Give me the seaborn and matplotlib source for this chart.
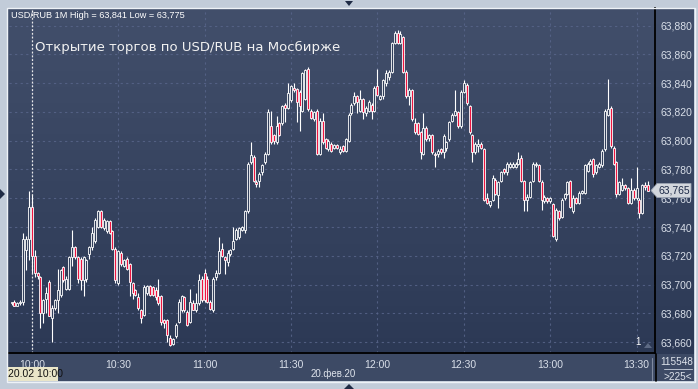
import numpy as np
import pandas as pd
import matplotlib
matplotlib.use("Agg")
import matplotlib.pyplot as plt
from matplotlib.colors import LinearSegmentedColormap
from matplotlib.patches import Rectangle, Polygon
from matplotlib.lines import Line2D
import seaborn as sns

sns.set_theme(style="dark")
plt.rcParams['font.family'] = ['Liberation Sans', 'DejaVu Sans']

# ---------------- data (1-minute candles, 20.02.2020 from 09:53) ----------------
start_time = "2020-02-20 09:53"
opens = [63.687, 63.688, 63.685, 63.687, 63.688, 63.724, 63.732, 63.754, 63.720, 63.708,
         63.705, 63.680, 63.690, 63.702, 63.677, 63.684, 63.689, 63.693, 63.712, 63.697,
         63.697, 63.719, 63.726, 63.719, 63.718, 63.703, 63.704, 63.721, 63.726, 63.730,
         63.740, 63.751, 63.739, 63.737, 63.744, 63.737, 63.725, 63.701, 63.722, 63.713,
         63.718, 63.714, 63.701, 63.696, 63.691, 63.682, 63.679, 63.694, 63.699, 63.698,
         63.696, 63.692, 63.692, 63.675, 63.675, 63.663, 63.659, 63.664, 63.674, 63.682,
         63.691, 63.681, 63.674, 63.687, 63.682, 63.687, 63.704, 63.708, 63.704, 63.688,
         63.682, 63.705, 63.708, 63.725, 63.719, 63.716, 63.721, 63.725, 63.732, 63.733,
         63.738, 63.738, 63.751, 63.785, 63.789, 63.771, 63.772, 63.778, 63.785, 63.791,
         63.810, 63.804, 63.799, 63.812, 63.812, 63.825, 63.823, 63.828, 63.837, 63.836,
         63.834, 63.821, 63.829, 63.850, 63.821, 63.815, 63.821, 63.791, 63.814, 63.801,
         63.794, 63.798, 63.795, 63.797, 63.792, 63.796, 63.793, 63.800, 63.819, 63.826,
         63.831, 63.821, 63.829, 63.819, 63.821, 63.825, 63.821, 63.838, 63.829, 63.831,
         63.840, 63.844, 63.848, 63.868, 63.875, 63.868, 63.872, 63.848, 63.831, 63.835,
         63.812, 63.812, 63.806, 63.791, 63.809, 63.802, 63.804, 63.791, 63.791, 63.794,
         63.792, 63.795, 63.801, 63.814, 63.818, 63.820, 63.810, 63.834, 63.839, 63.824,
         63.804, 63.792, 63.796, 63.798, 63.794, 63.760, 63.755, 63.759, 63.773, 63.762,
         63.772, 63.780, 63.778, 63.782, 63.782, 63.782, 63.784, 63.788, 63.772, 63.759,
         63.761, 63.772, 63.783, 63.783, 63.771, 63.758, 63.760, 63.758, 63.756, 63.732,
         63.751, 63.747, 63.760, 63.763, 63.772, 63.751, 63.760, 63.757, 63.764, 63.764,
         63.779, 63.784, 63.787, 63.778, 63.782, 63.783, 63.794, 63.818, 63.823, 63.795,
         63.785, 63.763, 63.766, 63.769, 63.767, 63.757, 63.766, 63.760, 63.759, 63.750,
         63.769, 63.769]
highs = [63.688, 63.689, 63.688, 63.689, 63.736, 63.734, 63.765, 63.762, 63.724, 63.709,
         63.706, 63.690, 63.698, 63.703, 63.686, 63.690, 63.711, 63.711, 63.713, 63.706,
         63.720, 63.738, 63.727, 63.720, 63.719, 63.720, 63.718, 63.727, 63.740, 63.746,
         63.752, 63.752, 63.746, 63.745, 63.745, 63.738, 63.726, 63.724, 63.723, 63.718,
         63.719, 63.715, 63.702, 63.697, 63.694, 63.683, 63.700, 63.700, 63.700, 63.699,
         63.698, 63.704, 63.693, 63.676, 63.676, 63.665, 63.663, 63.673, 63.690, 63.693,
         63.692, 63.682, 63.697, 63.689, 63.694, 63.707, 63.706, 63.711, 63.706, 63.689,
         63.705, 63.710, 63.733, 63.729, 63.720, 63.724, 63.725, 63.740, 63.739, 63.740,
         63.741, 63.752, 63.785, 63.799, 63.790, 63.773, 63.778, 63.784, 63.792, 63.822,
         63.821, 63.805, 63.817, 63.813, 63.825, 63.826, 63.840, 63.839, 63.840, 63.837,
         63.835, 63.848, 63.850, 63.851, 63.822, 63.821, 63.822, 63.816, 63.819, 63.802,
         63.801, 63.799, 63.798, 63.798, 63.796, 63.797, 63.802, 63.819, 63.826, 63.834,
         63.832, 63.835, 63.830, 63.824, 63.828, 63.826, 63.838, 63.850, 63.832, 63.843,
         63.849, 63.849, 63.869, 63.876, 63.877, 63.876, 63.873, 63.849, 63.837, 63.836,
         63.816, 63.813, 63.807, 63.819, 63.810, 63.805, 63.805, 63.792, 63.794, 63.795,
         63.805, 63.800, 63.814, 63.819, 63.835, 63.821, 63.835, 63.842, 63.840, 63.825,
         63.805, 63.799, 63.801, 63.799, 63.795, 63.764, 63.758, 63.776, 63.774, 63.772,
         63.779, 63.781, 63.785, 63.785, 63.785, 63.785, 63.792, 63.790, 63.773, 63.763,
         63.772, 63.785, 63.785, 63.784, 63.773, 63.762, 63.761, 63.761, 63.757, 63.753,
         63.752, 63.760, 63.764, 63.772, 63.773, 63.762, 63.761, 63.765, 63.766, 63.784,
         63.785, 63.787, 63.788, 63.784, 63.785, 63.794, 63.822, 63.843, 63.824, 63.796,
         63.786, 63.772, 63.774, 63.770, 63.768, 63.774, 63.767, 63.782, 63.760, 63.770,
         63.771, 63.772]
lows = [63.686, 63.685, 63.685, 63.686, 63.686, 63.710, 63.717, 63.708, 63.705, 63.704,
        63.670, 63.673, 63.680, 63.678, 63.660, 63.682, 63.680, 63.691, 63.702, 63.696,
        63.696, 63.713, 63.718, 63.701, 63.696, 63.692, 63.702, 63.718, 63.724, 63.729,
        63.739, 63.739, 63.738, 63.736, 63.735, 63.724, 63.701, 63.700, 63.713, 63.712,
        63.710, 63.692, 63.690, 63.692, 63.682, 63.673, 63.678, 63.693, 63.692, 63.692,
        63.689, 63.686, 63.672, 63.670, 63.660, 63.657, 63.658, 63.663, 63.673, 63.681,
        63.681, 63.671, 63.673, 63.682, 63.681, 63.686, 63.688, 63.688, 63.687, 63.682,
        63.681, 63.703, 63.707, 63.719, 63.707, 63.713, 63.720, 63.724, 63.731, 63.732,
        63.737, 63.736, 63.750, 63.784, 63.771, 63.768, 63.768, 63.776, 63.784, 63.790,
        63.798, 63.798, 63.798, 63.803, 63.811, 63.813, 63.822, 63.827, 63.834, 63.813,
        63.807, 63.820, 63.828, 63.821, 63.815, 63.814, 63.790, 63.790, 63.798, 63.794,
        63.793, 63.792, 63.794, 63.794, 63.791, 63.792, 63.792, 63.799, 63.818, 63.825,
        63.819, 63.820, 63.815, 63.817, 63.820, 63.815, 63.820, 63.831, 63.828, 63.829,
        63.838, 63.842, 63.847, 63.867, 63.867, 63.867, 63.847, 63.830, 63.825, 63.814,
        63.805, 63.804, 63.787, 63.790, 63.800, 63.800, 63.791, 63.782, 63.789, 63.791,
        63.788, 63.793, 63.800, 63.813, 63.817, 63.809, 63.809, 63.833, 63.825, 63.805,
        63.785, 63.791, 63.792, 63.794, 63.758, 63.756, 63.754, 63.758, 63.762, 63.753,
        63.771, 63.777, 63.776, 63.781, 63.781, 63.781, 63.783, 63.771, 63.751, 63.751,
        63.760, 63.771, 63.782, 63.771, 63.752, 63.757, 63.757, 63.757, 63.733, 63.730,
        63.745, 63.746, 63.759, 63.762, 63.753, 63.750, 63.756, 63.756, 63.763, 63.763,
        63.778, 63.783, 63.775, 63.777, 63.781, 63.782, 63.793, 63.817, 63.795, 63.783,
        63.761, 63.762, 63.765, 63.766, 63.756, 63.756, 63.759, 63.759, 63.746, 63.749,
        63.766, 63.765]
closes = [63.687, 63.685, 63.687, 63.688, 63.732, 63.732, 63.754, 63.720, 63.708, 63.706,
          63.680, 63.689, 63.694, 63.678, 63.684, 63.689, 63.696, 63.710, 63.703, 63.704,
          63.719, 63.726, 63.719, 63.704, 63.703, 63.719, 63.717, 63.726, 63.736, 63.745,
          63.751, 63.740, 63.745, 63.744, 63.736, 63.725, 63.703, 63.723, 63.714, 63.717,
          63.711, 63.702, 63.694, 63.693, 63.684, 63.677, 63.698, 63.699, 63.693, 63.693,
          63.691, 63.687, 63.674, 63.673, 63.665, 63.658, 63.662, 63.672, 63.688, 63.692,
          63.682, 63.672, 63.688, 63.682, 63.687, 63.703, 63.689, 63.689, 63.688, 63.683,
          63.704, 63.708, 63.723, 63.720, 63.717, 63.722, 63.724, 63.730, 63.738, 63.739,
          63.740, 63.751, 63.784, 63.790, 63.772, 63.770, 63.777, 63.783, 63.791, 63.820,
          63.799, 63.800, 63.810, 63.804, 63.824, 63.823, 63.833, 63.838, 63.835, 63.827,
          63.824, 63.847, 63.849, 63.822, 63.816, 63.820, 63.791, 63.814, 63.799, 63.795,
          63.800, 63.793, 63.797, 63.795, 63.794, 63.793, 63.801, 63.818, 63.825, 63.831,
          63.827, 63.829, 63.820, 63.823, 63.827, 63.821, 63.837, 63.832, 63.831, 63.842,
          63.847, 63.848, 63.868, 63.875, 63.868, 63.874, 63.848, 63.831, 63.835, 63.815,
          63.806, 63.805, 63.792, 63.809, 63.801, 63.804, 63.792, 63.790, 63.793, 63.792,
          63.803, 63.799, 63.813, 63.818, 63.821, 63.810, 63.834, 63.840, 63.826, 63.806,
          63.792, 63.798, 63.798, 63.795, 63.759, 63.757, 63.758, 63.774, 63.763, 63.771,
          63.778, 63.778, 63.784, 63.784, 63.784, 63.784, 63.787, 63.772, 63.759, 63.761,
          63.771, 63.784, 63.784, 63.772, 63.759, 63.761, 63.758, 63.760, 63.734, 63.752,
          63.746, 63.759, 63.763, 63.771, 63.754, 63.760, 63.757, 63.764, 63.765, 63.783,
          63.784, 63.786, 63.777, 63.783, 63.784, 63.793, 63.821, 63.822, 63.796, 63.784,
          63.763, 63.771, 63.769, 63.767, 63.757, 63.766, 63.760, 63.767, 63.750, 63.769,
          63.768, 63.765]

y_ticks = [63.660, 63.680, 63.700, 63.720, 63.740, 63.760, 63.780, 63.800,
           63.820, 63.840, 63.860, 63.880]
x_tick_times = ["10:00", "10:30", "11:00", "11:30", "12:00", "12:30", "13:00", "13:30"]
header_text = "USD/RUB 1M High = 63,841 Low = 63,775"
title_text = "Открытие торгов по USD/RUB на Мосбирже"
last_price_label = "63,765"
date_label = "20.фев.20"
cursor_label = "20.02 10:00"
volume_label = "115548"
count_label = ">225<"

# ---------------- frame ----------------
W, H = 698, 389
fig = plt.figure(figsize=(W / 100, H / 100), dpi=100)
fig.patch.set_facecolor("#c2ccd9")

def fx(x):
    return x / W

def fy(y):
    return 1 - y / H

# inner background with gradient (plot + right panel)
bg = fig.add_axes([fx(8), fy(354), fx(694) - fx(8), fy(8) - fy(354)], zorder=0)
grad = LinearSegmentedColormap.from_list("g", ["#2c3955", "#424f6b"])
bg.imshow(np.linspace(0, 1, 256).reshape(-1, 1), cmap=grad, aspect="auto",
          extent=[0, 1, 0, 1], origin="lower")
bg.set_axis_off()

# bottom panel
fig.patches.append(Rectangle((fx(8), fy(381)), fx(694) - fx(8), fy(354) - fy(381),
                             transform=fig.transFigure, facecolor="#3d4a65",
                             edgecolor="none", zorder=1))
# border
fig.patches.append(Rectangle((fx(7.5), fy(381.5)), fx(694.5) - fx(7.5), fy(7.5) - fy(381.5),
                             transform=fig.transFigure, facecolor="none",
                             edgecolor="#eef2f7", lw=1.0, zorder=5))

# ---------------- main axes ----------------
ax = fig.add_axes([fx(9), fy(353), fx(655) - fx(9), fy(8) - fy(353)], zorder=2)
ax.set_facecolor("none")

times = pd.date_range(start_time, periods=len(closes), freq="min")
df = pd.DataFrame({"time": times, "open": opens, "high": highs,
                   "low": lows, "close": closes})
ref = pd.Timestamp("2020-02-20 10:00")
df["m"] = (df["time"] - ref).dt.total_seconds() / 60.0
df["up"] = df["close"] >= df["open"]
df["bottom"] = df[["open", "close"]].min(axis=1)
df["height"] = (df["close"] - df["open"]).abs().clip(lower=0.0006)

ax.vlines(df["m"], df["low"], df["high"], color="white", lw=0.8, zorder=3)
up = df[df["up"]]
dn = df[~df["up"]]
ax.bar(up["m"], up["height"], bottom=up["bottom"], width=0.7,
       facecolor="#323f5b", edgecolor="white", linewidth=0.6, zorder=4)
ax.bar(dn["m"], dn["height"], bottom=dn["bottom"], width=0.7,
       facecolor="#ee1540", edgecolor="white", linewidth=0.6, zorder=4)

ax.set_xlim(-7.9, 216.4)
ax.set_ylim(63.6524, 63.8923)

x_ticks = [(pd.Timestamp("2020-02-20 " + t) - ref).total_seconds() / 60 for t in x_tick_times]
ax.set_xticks(x_ticks)
ax.set_xticklabels(x_tick_times)
ax.set_yticks(y_ticks)
ax.set_yticklabels([f"{v:.3f}".replace(".", ",") for v in y_ticks])
ax.yaxis.tick_right()
ax.tick_params(axis="y", length=0, pad=4, labelsize=7.5, colors="#d9dfe9")
ax.tick_params(axis="x", length=0, pad=5, labelsize=7.5, colors="#d9dfe9")
for lab in ax.get_yticklabels():
    lab.set_horizontalalignment("left")

ax.grid(True, color="#58658a", lw=0.8, linestyle=(0, (2, 3)), alpha=0.85)
ax.axvline(0, color="#e8e8e8", lw=0.9, linestyle=(0, (1.5, 1.5)), zorder=2.5)
for s in ["top", "left"]:
    ax.spines[s].set_visible(False)
ax.spines["right"].set_color("black")
ax.spines["right"].set_linewidth(1.3)
ax.spines["bottom"].set_color("black")
ax.spines["bottom"].set_linewidth(1.3)

# right separator through bottom panel
fig.lines.append(Line2D([fx(655.5), fx(655.5)], [fy(354), fy(381)], transform=fig.transFigure,
                        color="black", lw=1.2, zorder=6))
fig.lines.append(Line2D([fx(651.5), fx(651.5)], [fy(358), fy(380)], transform=fig.transFigure,
                        color="#7f8aa0", lw=0.8, zorder=6))

# ---------------- texts ----------------
fig.text(fx(11), fy(15), header_text, fontsize=6.6, color="white", va="center", ha="left", zorder=7)
fig.text(fx(35), fy(47), title_text, fontsize=9.5, color="#f2f2f2", va="center", ha="left",
         family=["DejaVu Sans"], zorder=7)

# last price tag
tag = Polygon([(fx(651), fy(190.5)), (fx(657), fy(183.5)), (fx(691), fy(183.5)),
               (fx(691), fy(197.5)), (fx(657), fy(197.5))], closed=True,
              transform=fig.transFigure, facecolor="#d3d7dd", edgecolor="#9aa3b2",
              lw=0.6, zorder=8)
fig.patches.append(tag)
fig.text(fx(674), fy(190.5), last_price_label, fontsize=7.5, color="#1d2a47",
         ha="center", va="center", zorder=9)

# "1" marker and small triangle
fig.text(fx(638), fy(342), "1", fontsize=7, color="white", ha="center", va="center", zorder=7)
fig.patches.append(Polygon([(fx(644), fy(348)), (fx(652), fy(348)), (fx(648), fy(343))],
                           closed=True, transform=fig.transFigure, facecolor="#5d6a84",
                           edgecolor="none", zorder=7))

# bottom panel texts
fig.text(fx(333), fy(374), date_label, fontsize=7, color="#dfe4ec", ha="center", va="center", zorder=7)
fig.patches.append(Rectangle((fx(8), fy(381)), fx(58) - fx(8), fy(367) - fy(381),
                             transform=fig.transFigure, facecolor="#e9e5c8",
                             edgecolor="none", zorder=7))
fig.text(fx(8.5), fy(374), cursor_label, fontsize=7.5, color="#111111", ha="left", va="center", zorder=8)
fig.text(fx(677), fy(362), volume_label, fontsize=7.2, color="#dfe4ec", ha="center", va="center", zorder=7)
fig.lines.append(Line2D([fx(664), fx(692)], [fy(369), fy(369)], transform=fig.transFigure,
                        color="#b8c0ce", lw=0.7, zorder=7))
fig.text(fx(678), fy(377), count_label, fontsize=7.2, color="#dfe4ec", ha="center", va="center", zorder=7)

# frame triangles
for pts in ([(345, 1), (353, 1), (349, 6)],
            [(344, 389), (354, 389), (349, 384)],
            [(0, 189), (0, 199), (5, 194)]):
    fig.patches.append(Polygon([(fx(a), fy(b)) for a, b in pts], closed=True,
                               transform=fig.transFigure, facecolor="#1f2b45",
                               edgecolor="none", zorder=7))

fig.savefig("out.png", dpi=100, facecolor=fig.get_facecolor())
